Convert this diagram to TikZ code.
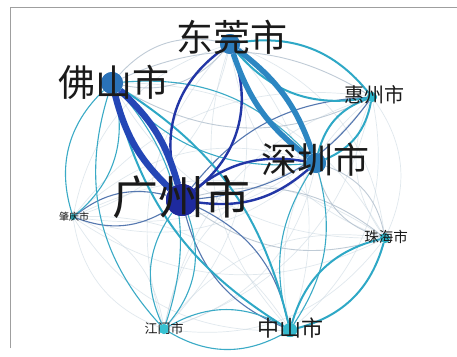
\documentclass[tikz,border=0pt]{standalone}
\usepackage{fontspec}
\setmainfont{Noto Sans CJK SC}
\definecolor{cGZ}{HTML}{1E2A9E}
\definecolor{cFS}{HTML}{2A72B8}
\definecolor{cDG}{HTML}{2C7CBC}
\definecolor{cSZ}{HTML}{2C80BF}
\definecolor{cHZ}{HTML}{2BB8CE}
\definecolor{cZQ}{HTML}{2A9AA8}
\definecolor{cZH}{HTML}{2BB0C4}
\definecolor{cJM}{HTML}{38C2D2}
\definecolor{cZS}{HTML}{35B8CC}
\definecolor{txt}{HTML}{1A1A1A}
\begin{document}
\begin{tikzpicture}[x=1pt,y=-1pt,
  city/.style={circle,inner sep=0pt,draw=none},
  lab/.style={inner sep=0pt,text=txt},
  e0/.style={draw={rgb,255:red,200;green,214;blue,224},line width=0.7pt,opacity=0.55},
  eg/.style={draw={rgb,255:red,176;green,190;blue,204},line width=0.9pt,opacity=0.8},
  es/.style={draw={rgb,255:red,86;green,120;blue,176},line width=1.1pt},
  e1/.style={draw={rgb,255:red,58;green,170;blue,198},line width=1.1pt},
  e2/.style={draw={rgb,255:red,46;green,168;blue,198},line width=2pt},
  e3/.style={draw={rgb,255:red,34;green,54;blue,166},line width=2.4pt},
  e4/.style={draw={rgb,255:red,44;green,134;blue,194},line width=5.5pt},
  e5/.style={draw={rgb,255:red,36;green,70;blue,182},line width=6.5pt}]
\useasboundingbox (0,0) rectangle (457,356);
\fill[white] (0,0) rectangle (457,356);
\draw[gray!75,line width=1pt] (10.5,348) -- (10.5,7.5) -- (457,7.5);
% city nodes
\node[city,fill=cGZ,minimum size=32pt] (GZ) at (182,200) {};
\node[city,fill=cFS,minimum size=22pt] (FS) at (112,83) {};
\node[city,fill=cDG,minimum size=20pt] (DG) at (230,44) {};
\node[city,fill=cSZ,minimum size=20pt] (SZ) at (316,163) {};
\node[city,fill=cHZ,minimum size=10pt] (HZ) at (372,97) {};
\node[city,fill=cZQ,minimum size=6pt] (ZQ) at (73,217) {};
\node[city,fill=cZH,minimum size=10pt] (ZH) at (385,238) {};
\node[city,fill=cJM,minimum size=10pt] (JM) at (164,329) {};
\node[city,fill=cZS,minimum size=14pt] (ZS) at (290,330) {};
% edges
\begin{scope}[on background layer/.style={}]
\foreach \a/\b/\s/\ang in {
  FS/ZH/e0/30, DG/ZQ/e0/30, DG/ZH/e0/30, DG/JM/e0/30, SZ/ZQ/e0/30,
  SZ/JM/e0/30, HZ/ZQ/e0/30, HZ/ZH/e0/30, HZ/JM/e0/30, HZ/ZS/e0/30,
  ZQ/ZH/e0/30, ZQ/JM/e0/30, ZQ/ZS/e0/30, ZH/JM/e0/30, DG/ZS/e0/30,
  FS/DG/eg/30, FS/HZ/eg/28, GZ/ZH/eg/26, SZ/ZH/eg/30,
  GZ/HZ/es/24, GZ/ZQ/es/26, GZ/ZS/es/26,
  FS/ZQ/e1/32, FS/JM/e1/30, GZ/JM/e1/30, JM/ZS/e1/30, SZ/ZS/e1/24, FS/SZ/e1/26,
  DG/HZ/e2/30, SZ/HZ/e2/28, ZH/ZS/e2/30, FS/ZS/e2/22,
  GZ/DG/e3/36, GZ/SZ/e3/24,
  DG/SZ/e4/17,
  GZ/FS/e5/16}
{
  \draw[\s] (\a) to[bend left=\ang] (\b);
  \draw[\s] (\b) to[bend left=\ang] (\a);
}
\end{scope}
% redraw nodes on top of edges
\node[city,fill=cGZ,minimum size=32pt] at (GZ) {};
\node[city,fill=cFS,minimum size=22pt] at (FS) {};
\node[city,fill=cDG,minimum size=20pt] at (DG) {};
\node[city,fill=cSZ,minimum size=20pt] at (SZ) {};
\node[city,fill=cHZ,minimum size=10pt] at (HZ) {};
\node[city,fill=cZQ,minimum size=6pt] at (ZQ) {};
\node[city,fill=cZH,minimum size=10pt] at (ZH) {};
\node[city,fill=cJM,minimum size=10pt] at (JM) {};
\node[city,fill=cZS,minimum size=14pt] at (ZS) {};
% labels
\node[lab,font=\fontsize{46}{46}\selectfont] (lGZ) at (181,197) {广州市};
\node[lab,font=\fontsize{37}{37}\selectfont] (lFS) at (114,82) {佛山市};
\node[lab,font=\fontsize{37}{37}\selectfont] (lDG) at (232,37) {东莞市};
\node[lab,font=\fontsize{36}{36}\selectfont] (lSZ) at (315,160) {深圳市};
\node[lab,font=\fontsize{20}{20}\selectfont] (lHZ) at (374,95) {惠州市};
\node[lab,font=\fontsize{14.5}{14.5}\selectfont] (lZH) at (386,237) {珠海市};
\node[lab,font=\fontsize{13}{13}\selectfont] (lJM) at (164,329) {江门市};
\node[lab,font=\fontsize{22}{22}\selectfont] (lZS) at (290,328) {中山市};
\node[lab,font=\fontsize{10}{10}\selectfont] (lZQ) at (74,217) {肇庆市};
\end{tikzpicture}
\end{document}
